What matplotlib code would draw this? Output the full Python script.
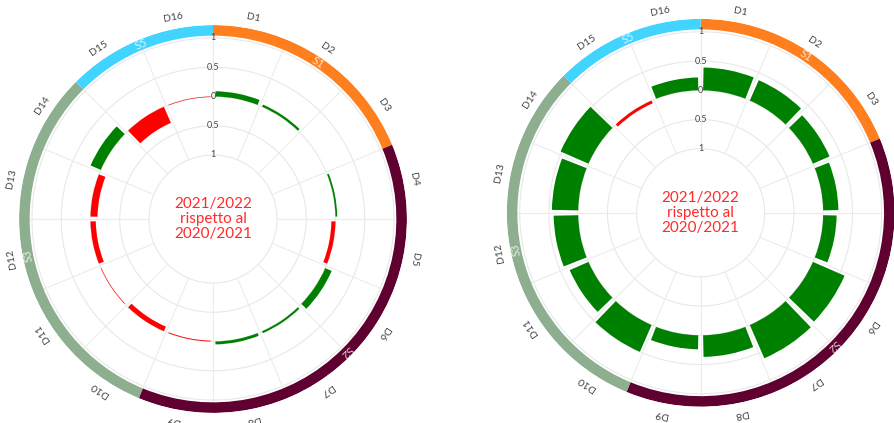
import numpy as np
import matplotlib.pyplot as plt

plt.rcParams['font.family'] = ['Lato', 'DejaVu Sans']

districts = ['D%d' % i for i in range(1, 17)]
# variazione 2021/2022 rispetto al 2020/2021
left_vals = [0.09, 0.04, 0.0, 0.03, -0.07, 0.12, 0.035, 0.05,
             -0.015, -0.085, -0.01, -0.09, -0.12, 0.19, -0.30, -0.01]
right_vals = [0.39, 0.38, 0.31, 0.26, 0.23, 0.59, 0.62, 0.37,
              0.24, 0.50, 0.35, 0.42, 0.45, 0.52, -0.05, 0.22]

groups = ['S1', 'S2', 'S3', 'S5']
group_start = [0, 3, 9, 14]   # index of first district
group_end = [3, 9, 14, 16]    # index after last district
group_colors = ['#ff7f1f', '#600030', '#8daf8f', '#40d4ff']

center_text = '2021/2022\nrispetto al\n2020/2021'

rmin, rmax = -2.094, 1.222
n = len(districts)
step = 2 * np.pi / n
theta = np.arange(n) * step + step / 2


def draw_wheel(ax, vals):
    ax.set_theta_zero_location('N')
    ax.set_theta_direction(-1)
    ax.set_rlim(rmin, rmax)
    ax.set_axis_off()

    # grid
    tt = np.linspace(0, 2 * np.pi, 400)
    for r in [-1, -0.5, 0, 0.5, 1]:
        ax.plot(tt, np.full_like(tt, r), color='#e8e8e8', lw=0.8, zorder=1)
    for k in range(n):
        ax.plot([k * step, k * step], [-1, 1.04], color='#ececec', lw=0.8, zorder=1)

    # bars
    colors = ['#008000' if v >= 0 else '#ff0000' for v in vals]
    ax.bar(theta, vals, width=step * 0.9, bottom=0, color=colors,
           linewidth=0, zorder=3)

    # outer ring with groups
    for g, s, e, c in zip(groups, group_start, group_end, group_colors):
        a0, a1 = s * step, e * step
        ax.bar((a0 + a1) / 2, 0.18, width=a1 - a0, bottom=1.04, color=c,
               linewidth=0, zorder=2)
        mid = (a0 + a1) / 2
        ax.text(mid, 1.13, g, rotation=-np.degrees(mid), rotation_mode='anchor',
                ha='center', va='center', fontsize=8, color='white',
                alpha=0.8, zorder=4)

    # radial tick labels
    for r, lab in zip([1, 0.5, 0, -0.5, -1], ['1', '0.5', '0', '0.5', '1']):
        ax.text(0, r, lab, ha='center', va='center', fontsize=6.5,
                color='#444444', zorder=5)

    # district labels
    for t, d in zip(theta, districts):
        ax.text(t, 1.41, d, rotation=-np.degrees(t), rotation_mode='anchor',
                ha='center', va='center', fontsize=7.5, color='#444444')

    ax.text(0, rmin, center_text, ha='center', va='center', fontsize=11,
            color='#ff2a2a', linespacing=1.1, zorder=5)


fig = plt.figure(figsize=(8.94, 4.23), dpi=100)
ax1 = fig.add_axes([19 / 894, 10 / 423, 388 / 894, 388 / 423], projection='polar')
ax2 = fig.add_axes([506.7 / 894, 16.2 / 423, 388 / 894, 388 / 423], projection='polar')
draw_wheel(ax1, left_vals)
draw_wheel(ax2, right_vals)

fig.savefig('out.png', dpi=100)
